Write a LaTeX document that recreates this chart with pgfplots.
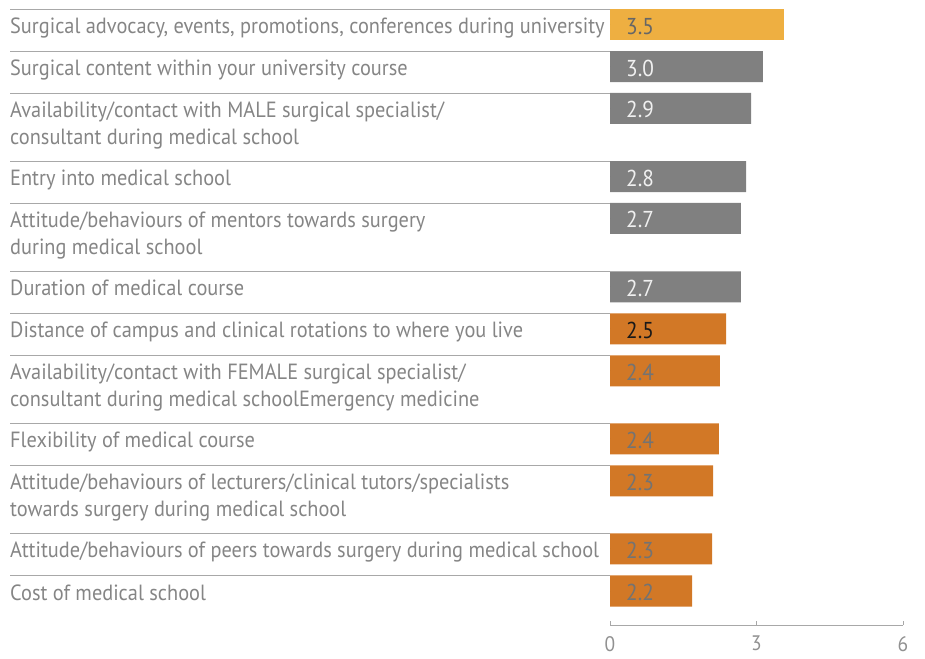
\documentclass[border=0pt]{standalone}
\usepackage{pgfplots}
\pgfplotsset{compat=1.18}
\usepackage{fontspec}
\setmainfont{PT Sans}[FakeStretch=0.925]
\definecolor{cyel}{HTML}{EEAF41}
\definecolor{cgray}{HTML}{808080}
\definecolor{corg}{HTML}{D27826}
\definecolor{ctext}{HTML}{858585}
\definecolor{cline}{HTML}{A8A8A8}
\newcommand{\lfont}{\fontsize{22}{27}\selectfont}
\newcommand{\vfont}{\fontsize{23}{27}\selectfont}
\newcommand{\lab}[2]{\node[anchor=base west, inner sep=0pt, text=ctext, font=\lfont] at ([xshift=-600pt]axis cs:0,-#1) {#2};}
\newcommand{\sep}[1]{\draw[cline, line width=1pt] (axis cs:0,-#1) -- ([xshift=-600pt]axis cs:0,-#1);}
\begin{document}
\begin{tikzpicture}
\useasboundingbox (0,0) rectangle (925pt,658pt);
\begin{axis}[
  at={(610pt,33pt)}, anchor=south west,
  width=293pt, height=625pt, scale only axis,
  xmin=0, xmax=6, ymin=-625, ymax=0,
  axis x line=bottom, axis y line=none,
  x axis line style={-, draw=cline, line width=1pt},
  xtick={0,3,6}, tick align=inside, major tick length=4pt,
  tick style={draw=cline, line width=1pt},
  xticklabel style={font=\fontsize{21}{25}\selectfont, text=ctext!90, inner sep=0pt, anchor=north, yshift=-11pt},
  /pgf/number format/assume math mode=true,
  ytick=\empty,
  clip=false,
]
% bars (lengths)
\addplot[xbar, bar shift=0pt, bar width=31pt, fill=cyel, draw=none] coordinates {(3.56,-25)};
\addplot[xbar, bar shift=0pt, bar width=31pt, fill=cgray, draw=none] coordinates {
 (3.13,-66.7) (2.89,-108.3) (2.79,-176.7) (2.68,-218.3) (2.68,-287)};
\addplot[xbar, bar shift=0pt, bar width=31pt, fill=corg, draw=none] coordinates {
 (2.38,-329) (2.25,-371) (2.23,-439) (2.11,-481) (2.09,-549) (1.68,-591)};
% value labels
\pgfplotsset{vlab/.style={only marks, mark=*, mark size=0pt, mark options={draw=none,fill=none},
  nodes near coords, point meta=explicit symbolic,
  nodes near coords style={anchor=west, xshift=16pt, yshift=-1.5pt, font=\vfont, inner sep=0pt, text=#1}}}
\addplot[vlab=black!60] coordinates {(0,-25)[3.5]};
\addplot[vlab=white!94!black] coordinates {(0,-66.7)[3.0] (0,-108.3)[2.9] (0,-176.7)[2.8] (0,-218.3)[2.7] (0,-287)[2.7]};
\addplot[vlab=black!90] coordinates {(0,-329)[2.5]};
\addplot[vlab=black!55] coordinates {(0,-371)[2.4] (0,-439)[2.4] (0,-481)[2.3] (0,-549)[2.3] (0,-591)[2.2]};
% separators
\sep{10}\sep{51.7}\sep{93.3}\sep{161.7}\sep{203.3}\sep{272}\sep{314}\sep{356}\sep{424}\sep{466}\sep{534}\sep{576}
% category labels
\lab{34}{Surgical advocacy, events, promotions, conferences during university}
\lab{75.7}{Surgical content within your university course}
\lab{117.3}{Availability/contact with MALE surgical specialist/}
\lab{144.3}{consultant during medical school}
\lab{185.7}{Entry into medical school}
\lab{227.3}{Attitude/behaviours of mentors towards surgery}
\lab{254.3}{during medical school}
\lab{296}{Duration of medical course}
\lab{338}{Distance of campus and clinical rotations to where you live}
\lab{380}{Availability/contact with FEMALE surgical specialist/}
\lab{407}{consultant during medical schoolEmergency medicine}
\lab{448}{Flexibility of medical course}
\lab{490}{Attitude/behaviours of lecturers/clinical tutors/specialists}
\lab{517}{towards surgery during medical school}
\lab{558}{Attitude/behaviours of peers towards surgery during medical school}
\lab{600}{Cost of medical school}
\end{axis}
\end{tikzpicture}
\end{document}
